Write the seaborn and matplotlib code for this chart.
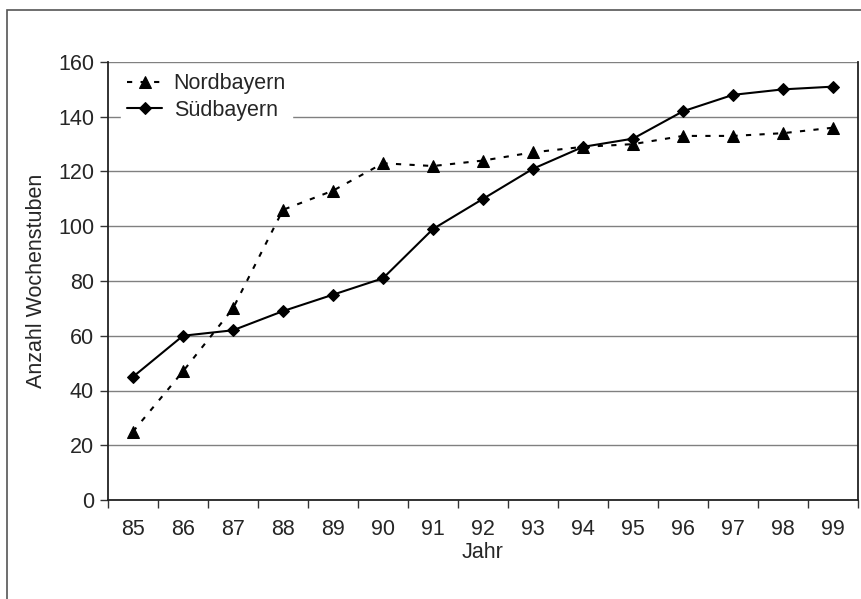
import numpy as np
import pandas as pd
import matplotlib
matplotlib.use("Agg")
import matplotlib.pyplot as plt
import seaborn as sns
from matplotlib.patches import Rectangle

years = ["85", "86", "87", "88", "89", "90", "91", "92", "93", "94", "95", "96", "97", "98", "99"]
nord = [25, 47, 70, 106, 113, 123, 122, 124, 127, 129, 130, 133, 133, 134, 136]
sued = [45, 60, 62, 69, 75, 81, 99, 110, 121, 129, 132, 142, 148, 150, 151]
y_ticks = [0, 20, 40, 60, 80, 100, 120, 140, 160]

sns.set_style("white")
plt.rcParams['font.family'] = ['Liberation Sans', 'DejaVu Sans']
FS = 15.5

pos = np.arange(len(years))
df_n = pd.DataFrame({"pos": pos, "val": nord})
df_s = pd.DataFrame({"pos": pos, "val": sued})

fig = plt.figure(figsize=(8.62, 5.99), dpi=100)
ax = fig.add_axes([108/862, 99/599, 750/862, 438/599])

# outer frame
fig.patches.append(Rectangle((7/862, -0.05), 1.1, (599-10)/599 + 0.05,
                             transform=fig.transFigure, fill=False,
                             edgecolor="#555555", linewidth=1.2, zorder=0))

sns.lineplot(data=df_n, x="pos", y="val", ax=ax, color="black", linewidth=1.5,
             linestyle=(0, (2.5, 4)), marker="^", markersize=8.5, markeredgecolor="black",
             label="Nordbayern")
sns.lineplot(data=df_s, x="pos", y="val", ax=ax, color="black", linewidth=1.5,
             marker="D", markersize=6.5, markeredgecolor="black",
             label="Südbayern")

ax.set_xlim(-0.5, len(years) - 0.5)
ax.set_ylim(0, 160)
ax.set_yticks(y_ticks)
ax.set_yticklabels([str(v) for v in y_ticks], fontsize=FS)
ax.yaxis.grid(True, color="#808080", linewidth=1.0)
ax.set_axisbelow(True)

ax.set_xticks(np.arange(len(years) + 1) - 0.5)
ax.set_xticklabels([])
ax.set_xticks(pos, minor=True)
ax.set_xticklabels(years, minor=True, fontsize=FS)
ax.tick_params(axis="x", which="major", direction="out", length=6, width=1, color="#333333", bottom=True)
ax.tick_params(axis="x", which="minor", length=0, pad=14)
ax.tick_params(axis="y", direction="out", length=6, width=1, color="#333333", left=True, pad=4)

for s in ["left", "bottom", "right"]:
    ax.spines[s].set_color("#222222")
    ax.spines[s].set_linewidth(1.3)
ax.spines["top"].set_visible(False)

ax.set_xlabel("Jahr", fontsize=FS, labelpad=1)
ax.set_ylabel("Anzahl Wochenstuben", fontsize=FS, labelpad=8)

leg = ax.legend(loc="upper left", bbox_to_anchor=(0.0, 1.018), frameon=True, fontsize=FS,
                handlelength=1.6, handletextpad=0.55, borderpad=0.3, labelspacing=0.25,
                borderaxespad=0.6)
leg.get_frame().set_edgecolor("white")
leg.get_frame().set_facecolor("white")
leg.get_frame().set_alpha(1.0)

fig.savefig("out.png", dpi=100)
